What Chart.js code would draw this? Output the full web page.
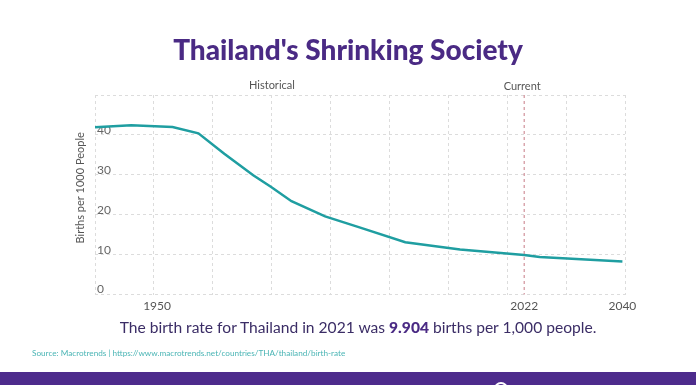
<!DOCTYPE html>
<html>
<head>
<meta charset="utf-8">
<script src="https://cdn.jsdelivr.net/npm/chart.js@4"></script>
<style>
    html, body { margin: 0; padding: 0; background: #fff; }
    #wrap { position: relative; width: 696px; height: 385px; overflow: hidden; font-family: Lato, sans-serif; }
    #chart { position: absolute; left: 0; top: 0; }
    .title { position: absolute; top: 32px; left: 0; width: 696px; text-align: center;
        font-size: 28px; font-weight: 900; color: #4a2a84; }
    .hist { position: absolute; top: 78px; left: 249px; font-size: 11px; color: #555; }
    .sub { position: absolute; top: 318px; left: 10px; width: 696px; text-align: center;
        font-size: 15.6px; color: #3b2d66; }
    .sub b { font-weight: 900; color: #4a2a84; }
    .src { position: absolute; top: 348px; left: 32px; font-size: 8.2px; color: #4bb5b5; }
    .bar { position: absolute; left: 0; top: 372px; width: 696px; height: 13px; background: #4d2b8c; overflow: hidden; }
    .icon { position: absolute; left: 494px; top: 10px; width: 10px; height: 10px;
        border: 2px solid #fff; border-radius: 50%; }
</style>
</head>
<body>
<div id="wrap">
    <canvas id="chart" width="696" height="385"></canvas>
    <div class="title">Thailand's Shrinking Society</div>
    <div class="hist">Historical</div>
    <div class="sub">The birth rate for Thailand in 2021 was <b>9.904</b> births per 1,000 people.</div>
    <div class="src">Source: Macrotrends | https://www.macrotrends.net/countries/THA/thailand/birth-rate</div>
    <div class="bar"><div class="icon"></div></div>
</div>
<script>
// Data
const years = [1938, 1945, 1953, 1958, 1963, 1968.6, 1972, 1976, 1982.5, 1989, 1998, 2008.6, 2021, 2024, 2040];
const birthRate = [41.9, 42.4, 42.0, 40.4, 35.3, 29.9, 27.0, 23.4, 19.6, 16.9, 13.1, 11.3, 9.9, 9.4, 8.3];
const tickYears = [1950, 2021, 2040];
const tickLabels = ['1950', '2022', '2040'];
const yTicks = [0, 10, 20, 30, 40, 50];
const currentYear = 2021;

const xMin = 1938, xMax = 2040.5;
const gridCount = 10;

const overlay = {
    id: 'overlay',
    afterDatasetsDraw(chart) {
        const { ctx, chartArea } = chart;
        const x = chart.scales.x.getPixelForValue(currentYear);
        ctx.save();
        // current marker
        ctx.strokeStyle = '#c77b86';
        ctx.lineWidth = 1;
        ctx.setLineDash([3, 3]);
        ctx.beginPath();
        ctx.moveTo(x, chartArea.top);
        ctx.lineTo(x, chartArea.bottom);
        ctx.stroke();
        ctx.setLineDash([]);
        ctx.fillStyle = '#555';
        ctx.font = '11px Lato';
        ctx.textAlign = 'center';
        ctx.textBaseline = 'middle';
        ctx.fillText('Current', x - 2, 86);
        // y title
        ctx.translate(80, (chartArea.top + chartArea.bottom) / 2 - 7);
        ctx.rotate(-Math.PI / 2);
        ctx.fillText('Births per 1000 People', 0, 0);
        ctx.restore();
    }
};

new Chart(document.getElementById('chart'), {
    type: 'line',
    data: {
        datasets: [{
            data: years.map((y, i) => ({ x: y, y: birthRate[i] })),
            borderColor: '#1f9ea1',
            borderWidth: 2.5,
            pointRadius: 0,
            tension: 0,
            fill: false
        }]
    },
    options: {
        responsive: false,
        animation: false,
        layout: { padding: { left: 95, right: 71, top: 95, bottom: 68 } },
        plugins: { legend: { display: false }, tooltip: { enabled: false } },
        scales: {
            x: {
                type: 'linear',
                min: xMin,
                max: xMax,
                afterBuildTicks(scale) {
                    const t = [];
                    for (let i = 0; i < gridCount; i++) {
                        t.push({ value: xMin + i * (xMax - xMin) / (gridCount - 1), grid: true });
                    }
                    tickYears.forEach(v => t.push({ value: v, grid: false }));
                    t.sort((a, b) => a.value - b.value);
                    scale.ticks = t;
                },
                grid: {
                    drawTicks: false,
                    color: ctx => (ctx.tick && ctx.tick.grid) ? '#dcdcdc' : 'rgba(0,0,0,0)',
                    lineWidth: 1
                },
                border: { display: false, dash: [3, 3] },
                ticks: {
                    autoSkip: false,
                    maxRotation: 0,
                    minRotation: 0,
                    padding: 4,
                    color: '#555',
                    font: { family: 'Lato', size: 12 },
                    callback(value) {
                        const i = tickYears.indexOf(value);
                        return i >= 0 ? tickLabels[i] : '';
                    }
                }
            },
            y: {
                min: 0,
                max: 50,
                afterFit(scale) { scale.width = 0; },
                afterBuildTicks(scale) {
                    scale.ticks = yTicks.map(v => ({ value: v }));
                },
                border: { display: false, dash: [3, 3] },
                grid: { drawTicks: false, color: '#dcdcdc', lineWidth: 1 },
                ticks: {
                    mirror: true,
                    padding: 2,
                    labelOffset: -5,
                    color: '#666',
                    font: { family: 'Lato', size: 12 },
                    callback: v => v === 50 ? '' : v
                }
            }
        }
    },
    plugins: [overlay]
});
</script>
</body>
</html>
